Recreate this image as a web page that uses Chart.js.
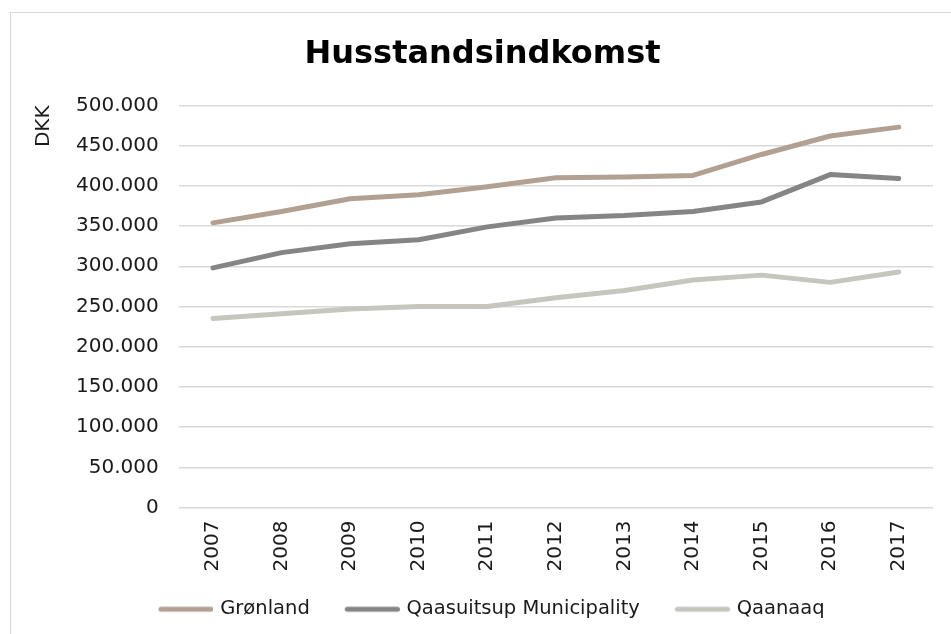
<!DOCTYPE html>
<html>
<head>
<meta charset="utf-8">
<script src="https://cdn.jsdelivr.net/npm/chart.js@4"></script>
<style>
  html, body { margin: 0; padding: 0; background: #fff; overflow: hidden; }
  #frame { position: absolute; left: 10px; top: 12px; width: 1000px; height: 700px; border: 1.5px solid #d9d9d9; }
  #wrap { position: absolute; left: 0; top: 0; width: 951px; height: 700px; }
</style>
</head>
<body>
<div id="frame"></div>
<div id="wrap"><canvas id="chart-income"></canvas></div>
<script>
const years = ["2007", "2008", "2009", "2010", "2011", "2012", "2013", "2014", "2015", "2016", "2017"];
const gronland = [354000, 368000, 384000, 389000, 399000, 410000, 411000, 413000, 439000, 462000, 473000];
const qaasuitsup = [298000, 317000, 328000, 333000, 349000, 360000, 363000, 368000, 380000, 414000, 409000];
const qaanaaq = [235000, 241000, 247000, 250000, 250000, 261000, 270000, 283000, 289000, 280000, 293000];

const font = "'DejaVu Sans', Verdana, sans-serif";

function dkk(v) {
  return String(v).replace(/\B(?=(\d{3})+(?!\d))/g, ".");
}

// legend swatch: thick rounded line, empty room on the left for item spacing
function swatch(color) {
  const c = document.createElement("canvas");
  c.width = 76;
  c.height = 8;
  const ctx = c.getContext("2d");
  ctx.strokeStyle = color;
  ctx.lineWidth = 5;
  ctx.lineCap = "round";
  ctx.beginPath();
  ctx.moveTo(23.5, 4);
  ctx.lineTo(73.5, 4);
  ctx.stroke();
  return c;
}

function line(label, data, color) {
  return {
    label: label,
    data: data,
    borderColor: color,
    backgroundColor: color,
    borderWidth: 5,
    borderCapStyle: "round",
    borderJoinStyle: "round",
    pointRadius: 0,
    pointStyle: swatch(color),
    tension: 0,
  };
}

Chart.defaults.font.family = font;
Chart.defaults.color = "#1a1a1a";

new Chart(document.getElementById("chart-income"), {
  type: "line",
  data: {
    labels: years,
    datasets: [
      line("Grønland", gronland, "#b2a192"),
      line("Qaasuitsup Municipality", qaasuitsup, "#858585"),
      line("Qaanaaq", qaanaaq, "#c6c6bf"),
    ],
  },
  options: {
    responsive: true,
    maintainAspectRatio: false,
    animation: false,
    layout: { padding: { top: 17, left: 32, right: 18, bottom: 71 } },
    plugins: {
      title: {
        display: true,
        text: "Husstandsindkomst",
        color: "#000",
        font: { size: 32, weight: "bold" },
        padding: { top: 18, bottom: 32 },
      },
      legend: {
        position: "bottom",
        labels: {
          usePointStyle: true,
          pointStyleWidth: 70,
          boxHeight: 8,
          padding: 17,
          font: { size: 19.5 },
          color: "#1a1a1a",
        },
      },
      tooltip: { enabled: false },
    },
    scales: {
      x: {
        offset: true,
        grid: { display: false },
        border: { display: false },
        ticks: { minRotation: 90, maxRotation: 90, padding: 5, font: { size: 20 } },
        afterFit: (scale) => { scale.height += 6; },
      },
      y: {
        min: 0,
        max: 500000,
        ticks: { stepSize: 50000, padding: 20, font: { size: 20 }, callback: (v) => dkk(v) },
        grid: { color: "#d9d9d9", lineWidth: 1.5, drawTicks: false },
        border: { display: false },
        title: {
          display: true,
          text: "DKK",
          align: "end",
          font: { size: 20 },
          padding: { top: 0, bottom: 0 },
        },
      },
    },
  },
});
</script>
</body>
</html>
